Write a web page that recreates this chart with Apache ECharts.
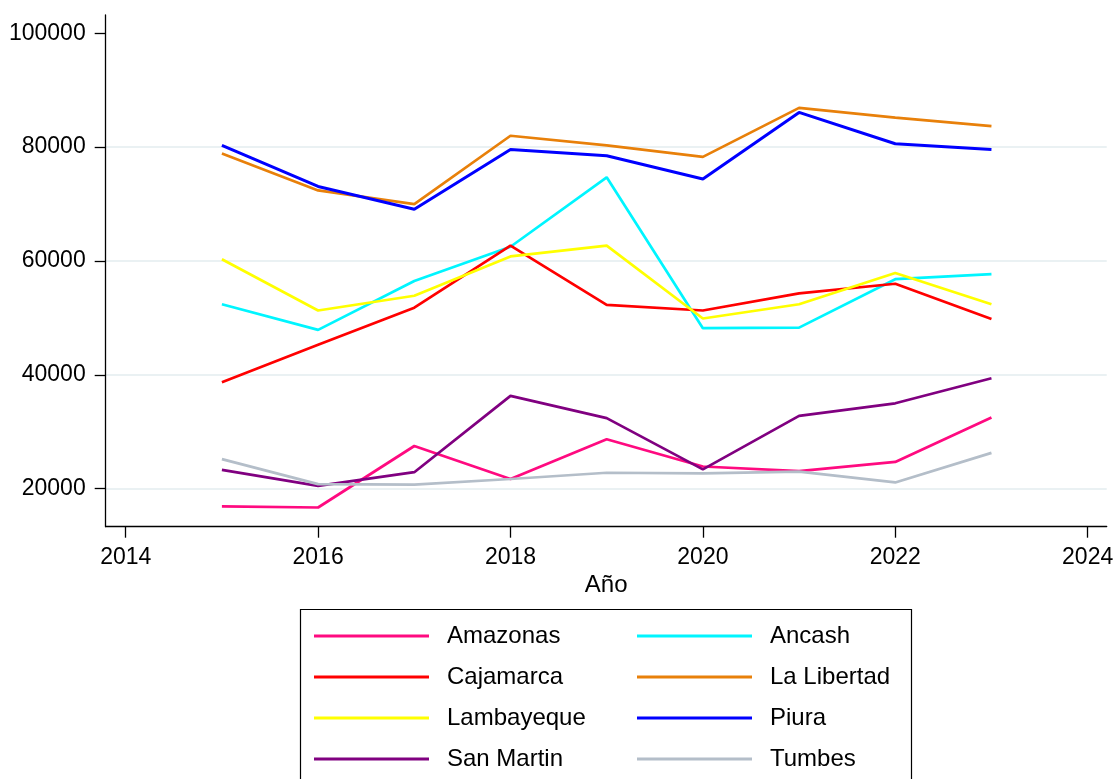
<!DOCTYPE html>
<html>
<head>
<meta charset="utf-8">
<script src="https://cdn.jsdelivr.net/npm/echarts@6/dist/echarts.min.js"></script>
<style>html,body{margin:0;padding:0;background:#fff}#c{width:1115px;height:779px}</style>
</head>
<body>
<div id="c"></div>
<script>
const years = [2015, 2016, 2017, 2018, 2019, 2020, 2021, 2022, 2023];
const amazonas   = [16900, 16700, 27500, 21700, 28700, 23900, 23100, 24700, 32500];
const ancash     = [52400, 47900, 56500, 62500, 74700, 48200, 48300, 56800, 57700];
const cajamarca  = [38700, 45300, 51800, 62700, 52300, 51300, 54300, 56000, 49800];
const laLibertad = [78900, 72400, 70000, 82000, 80300, 78300, 86900, 85200, 83700];
const lambayeque = [60300, 51300, 53900, 60800, 62700, 49900, 52400, 57900, 52400];
const piura      = [80300, 73100, 69100, 79600, 78500, 74400, 86100, 80600, 79600];
const sanMartin  = [23300, 20500, 22900, 36300, 32400, 23400, 32800, 35000, 39400];
const tumbes     = [25200, 20800, 20700, 21700, 22800, 22700, 23000, 21100, 26300];

const xTicks = [2014, 2016, 2018, 2020, 2022, 2024];
const yTicks = [20000, 40000, 60000, 80000, 100000];
const gridValues = [20000, 40000, 60000, 80000];

const names = ['Amazonas','Ancash','Cajamarca','La Libertad','Lambayeque','Piura','San Martin','Tumbes'];
const values = [amazonas, ancash, cajamarca, laLibertad, lambayeque, piura, sanMartin, tumbes];
const colors = ['#ff0a80','#00f5ff','#ff0000','#e8800a','#ffff00','#0000ff','#800080','#b4bec9'];

const FONT = 'Liberation Sans, Arial, sans-serif';
const chart = echarts.init(document.getElementById('c'), null, {renderer: 'canvas'});

const series = [{
  type: 'line', data: [], silent: true, z: 0,
  markLine: {
    silent: true, z: 0, symbol: ['none','none'], label: {show: false},
    lineStyle: {color: '#eaf1f3', width: 2, type: 'solid'},
    data: gridValues.map(v => ({yAxis: v}))
  }
}];
names.forEach((n, i) => {
  series.push({
    name: n, type: 'line', z: 3,
    data: years.map((y, j) => [y, values[i][j]]),
    showSymbol: false, symbol: 'none',
    lineStyle: {color: colors[i], width: n === 'Piura' ? 3 : 2.7},
    itemStyle: {color: colors[i]},
    emphasis: {disabled: true}
  });
});

const legendCommon = {
  orient: 'vertical', padding: 0, itemWidth: 115, itemHeight: 3, icon: 'rect',
  itemGap: 17, selectedMode: false, top: 624, height: 170, width: 270,
  textStyle: {fontFamily: FONT, fontSize: 24, color: '#000', lineHeight: 22, padding: [0,0,0,13]}
};

chart.setOption({
  animation: false,
  backgroundColor: '#fff',
  grid: {left: 105.7, right: 8.3, top: 15, bottom: 252.3, containLabel: false, outerBoundsMode: 'none'},
  xAxis: {
    type: 'value', min: 2013.792, max: 2024.198,
    name: 'Año', nameLocation: 'middle', nameGap: 39,
    nameTextStyle: {fontFamily: FONT, fontSize: 24, color: '#000'},
    axisLine: {show: true, onZero: false, lineStyle: {color: '#000', width: 1.3}},
    axisTick: {show: true, length: 11, customValues: xTicks, lineStyle: {color: '#000', width: 1.3}},
    axisLabel: {customValues: xTicks, margin: 19, fontFamily: FONT, fontSize: 23, color: '#000',
                formatter: v => String(v)},
    splitLine: {show: false}
  },
  yAxis: {
    type: 'value', min: 13325, max: 103215,
    axisLine: {show: true, onZero: false, lineStyle: {color: '#000', width: 1.3}},
    axisTick: {show: true, length: 11, customValues: yTicks, lineStyle: {color: '#000', width: 1.3}},
    axisLabel: {customValues: yTicks, margin: 20, fontFamily: FONT, fontSize: 23, color: '#000',
                formatter: v => String(v)},
    splitLine: {show: false}
  },
  legend: [
    Object.assign({}, legendCommon, {left: 314, data: ['Amazonas','Cajamarca','Lambayeque','San Martin']}),
    Object.assign({}, legendCommon, {left: 637, data: ['Ancash','La Libertad','Piura','Tumbes']})
  ],
  graphic: [{
    type: 'rect', shape: {x: 300.5, y: 609.5, width: 611, height: 200},
    style: {fill: 'none', stroke: '#000', lineWidth: 1.2}, silent: true, z: 0
  }],
  series: series
});
</script>
</body>
</html>
